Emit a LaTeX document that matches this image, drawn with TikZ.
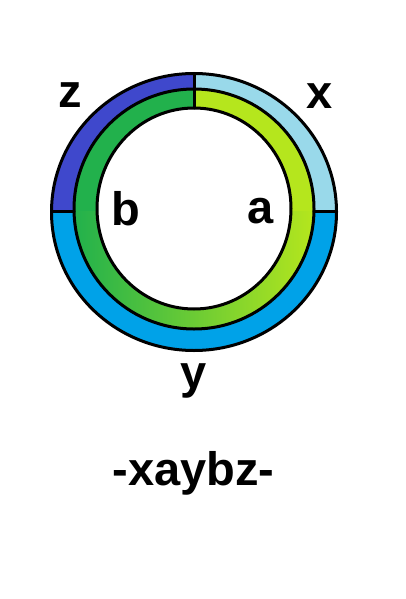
\documentclass[tikz,border=0pt]{standalone}
\usepackage{fontspec}
\setmainfont{Liberation Sans}
\usepackage{tikz}
\usetikzlibrary{arrows}
\definecolor{zblue}{RGB}{63,72,204}
\definecolor{xblue}{RGB}{153,217,234}
\definecolor{yblue}{RGB}{0,162,232}
\definecolor{bgreen}{RGB}{34,177,76}
\definecolor{alime}{RGB}{181,230,29}
\tikzset{lbl/.style={anchor=base,font=\fontsize{47}{47}\selectfont\bfseries}}

\begin{document}
\begin{tikzpicture}[line cap=round,line join=round,x=1pt,y=-1pt]
\useasboundingbox (0,0) rectangle (406,599);
% outer ring
\fill[yblue] (194,212) ellipse [x radius=142.5pt, y radius=138.5pt];
\begin{scope}
\clip (0,0) rectangle (194,211);
\fill[zblue] (194,212) ellipse [x radius=142.5pt, y radius=138.5pt];
\end{scope}
\begin{scope}
\clip (194,0) rectangle (406,211);
\fill[xblue] (194,212) ellipse [x radius=142.5pt, y radius=138.5pt];
\end{scope}
% inner ring
\begin{scope}
\clip (0,0) rectangle (194,211);
\fill[bgreen] (194,209) circle [radius=120pt];
\end{scope}
\begin{scope}
\clip (194,0) rectangle (406,211);
\fill[alime] (194,209) circle [radius=120pt];
\end{scope}
\begin{scope}
\clip (0,211) rectangle (406,599);
\shade[left color=bgreen,right color=alime] (194,209) circle [radius=120pt];
\end{scope}
\fill[white] (194,208.5) ellipse [x radius=97pt, y radius=100.5pt];
% outlines
\draw[line width=3pt] (194,212) ellipse [x radius=142.5pt, y radius=138.5pt];
\draw[line width=3pt] (194,209) circle [radius=120pt];
\draw[line width=3pt] (194,208.5) ellipse [x radius=97pt, y radius=100.5pt];
\draw[line width=3pt] (194,74)-- (194,108);
\draw[line width=3pt] (51.5,211)-- (74,211);
\draw[line width=3pt] (314,211)-- (336.5,211);
% labels
\node[lbl] (z) at (70,107) {z};
\node[lbl] (x) at (320,109) {x};
\node[lbl] (b) at (125.5,225) {b};
\node[lbl] (a) at (261,223) {a};
\node[lbl] (y) at (193.5,388) {y};
\node[lbl] (word) at (193.5,485) {-xaybz-};
\end{tikzpicture}
\end{document}
